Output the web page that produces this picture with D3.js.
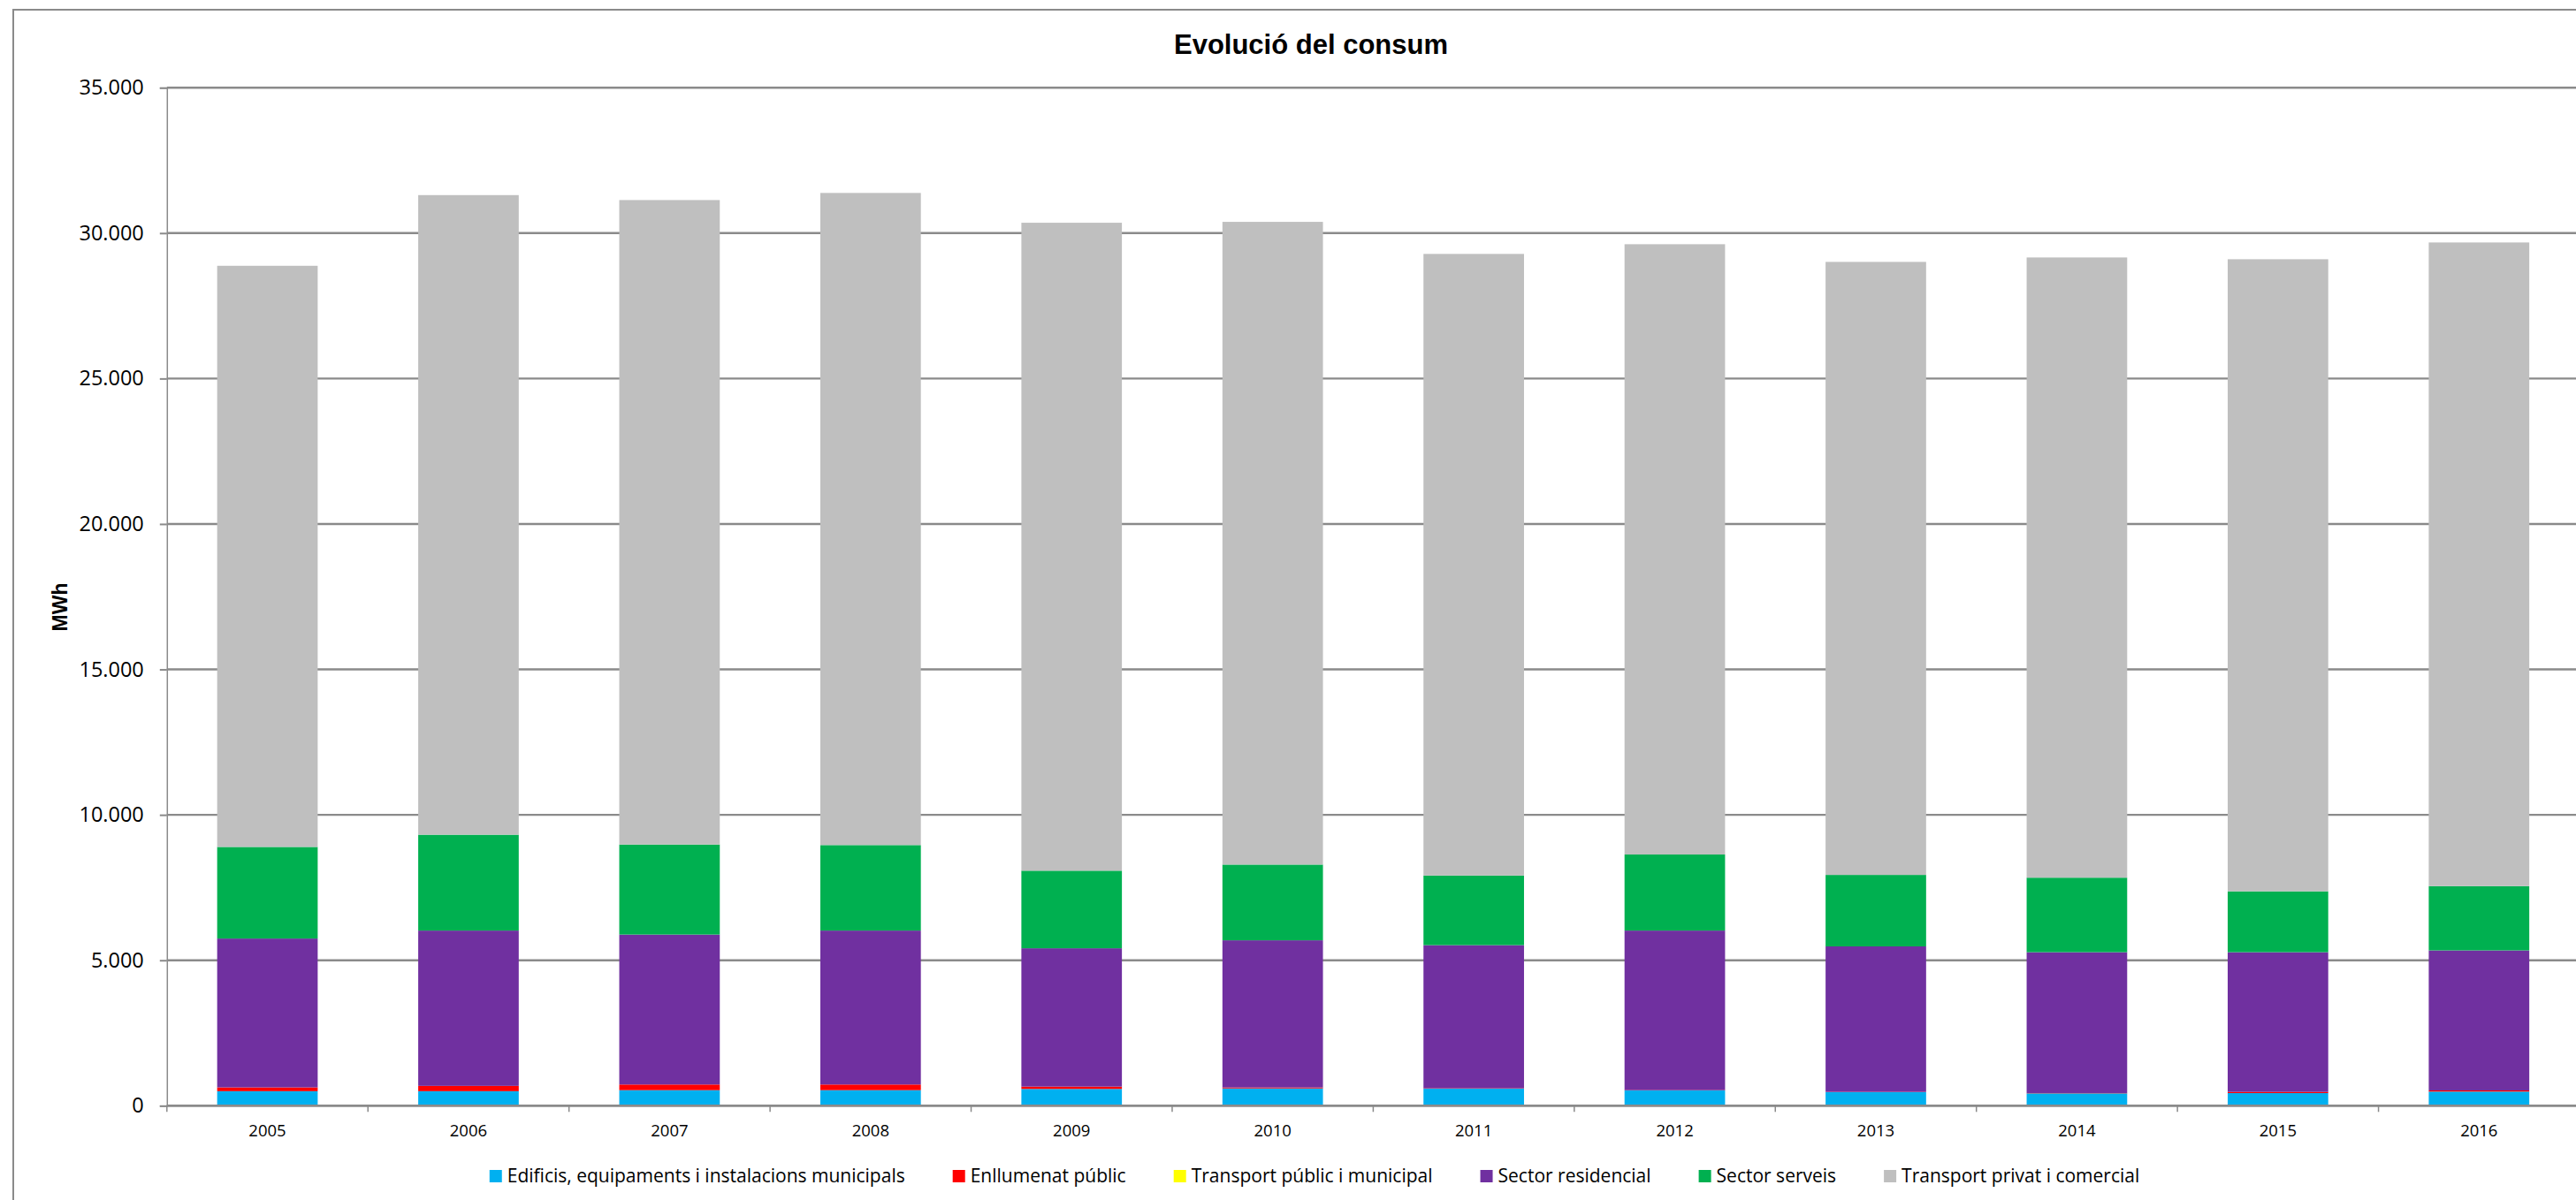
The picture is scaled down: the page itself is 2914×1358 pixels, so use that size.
<!DOCTYPE html>
<html>
<head>
<meta charset="utf-8">
<script src="https://cdn.jsdelivr.net/npm/d3@7"></script>
<style>
  html, body { margin: 0; padding: 0; background: #fff; }
  svg { display: block; }
</style>
</head>
<body>
<svg id="chart" width="2914" height="1358"></svg>
<script>
const years = ["2005","2006","2007","2008","2009","2010","2011","2012","2013","2014","2015","2016"];
const seriesNames = [
  "Edificis, equipaments i instalacions municipals",
  "Enllumenat públic",
  "Transport públic i municipal",
  "Sector residencial",
  "Sector serveis",
  "Transport privat i comercial"
];
const seriesColors = ["#00B0F0", "#FF0000", "#FFFF00", "#7030A0", "#00B050", "#BFBFBF"];
const edificis    = [500, 500, 535, 535, 577, 596, 586, 525, 465, 425, 434, 486];
const enllumenat  = [130, 182, 194, 194, 80, 30, 15, 10, 10, 10, 40, 40];
const transPublic = [0, 0, 0, 0, 0, 0, 0, 0, 0, 0, 0, 0];
const residencial = [5117, 5339, 5155, 5292, 4756, 5061, 4919, 5486, 5002, 4842, 4803, 4814];
const serveis     = [3150, 3296, 3095, 2940, 2667, 2603, 2393, 2615, 2458, 2563, 2093, 2209];
const transPrivat = [19979, 21989, 22157, 22419, 22276, 22096, 21371, 20982, 21075, 21322, 21731, 22129];
const yTicks = [0, 5000, 10000, 15000, 20000, 25000, 30000, 35000];
const titleText = "Evolució del consum";
const yAxisTitle = "MWh";

const seriesValues = [edificis, enllumenat, transPublic, residencial, serveis, transPrivat];
const keys = seriesNames;
const rows = years.map((y, i) => {
  const r = { year: y };
  keys.forEach((k, j) => r[k] = seriesValues[j][i]);
  return r;
});

const svg = d3.select("#chart");
const plotLeft = 188.8, plotRight = 2918, plotTop = 99.2, plotBottom = 1251.3;
const gridColor = "#8a8a8a";

// outer chart border
svg.append("rect").attr("x", 15).attr("y", 11).attr("width", 3100).attr("height", 1500)
  .attr("fill", "#fff").attr("stroke", "#8a8a8a").attr("stroke-width", 2);

const x = d3.scaleBand().domain(years).range([plotLeft, plotRight]).paddingInner(0.5).paddingOuter(0.25);
const y = d3.scaleLinear().domain([0, 35000]).range([plotBottom, plotTop]);

const loc = d3.formatLocale({ decimal: ",", thousands: ".", grouping: [3], currency: ["", "€"] });
const fmt = loc.format(",.0f");

// gridlines
svg.append("g").selectAll("line").data(yTicks).join("line")
  .attr("x1", plotLeft).attr("x2", plotRight)
  .attr("y1", d => y(d)).attr("y2", d => y(d))
  .attr("stroke", gridColor).attr("stroke-width", 2.4);

// bars
const stack = d3.stack().keys(keys);
const stacked = stack(rows);
svg.append("g").selectAll("g").data(stacked).join("g")
  .attr("fill", (d, i) => seriesColors[i])
  .selectAll("rect").data(d => d).join("rect")
  .attr("x", d => x(d.data.year))
  .attr("width", x.bandwidth())
  .attr("y", d => y(d[1]))
  .attr("height", d => Math.max(0, y(d[0]) - y(d[1])));

// y axis
const yAxis = d3.axisLeft(y).tickValues(yTicks).tickFormat(fmt).tickSize(8).tickPadding(18);
const gy = svg.append("g").attr("transform", `translate(${plotLeft},0)`).call(yAxis);
gy.select(".domain").attr("stroke", gridColor).attr("stroke-width", 1.5);
gy.selectAll(".tick line").attr("stroke", gridColor).attr("stroke-width", 2);
gy.selectAll(".tick text").attr("font-family", "'Open Sans', sans-serif").attr("font-size", 23.5).attr("fill", "#000");

// x axis baseline
svg.append("line").attr("x1", plotLeft).attr("x2", plotRight).attr("y1", y(0)).attr("y2", y(0))
  .attr("stroke", gridColor).attr("stroke-width", 2.4);
// category boundary ticks
const step = x.step();
const bounds = d3.range(years.length + 1).map(i => plotLeft + i * step);
svg.append("g").selectAll("line").data(bounds).join("line")
  .attr("x1", d => d).attr("x2", d => d)
  .attr("y1", y(0)).attr("y2", y(0) + 7)
  .attr("stroke", gridColor).attr("stroke-width", 1.5);
// x labels via axis
const xAxis = d3.axisBottom(x).tickSize(0).tickPadding(0);
const gx = svg.append("g").attr("transform", `translate(0,${plotBottom})`).call(xAxis);
gx.select(".domain").remove();
gx.selectAll(".tick text").attr("font-family", "'Open Sans', sans-serif").attr("font-size", 18.5)
  .attr("fill", "#000").attr("dy", null).attr("y", 35);

// title
svg.append("text").attr("x", 1483).attr("y", 61).attr("text-anchor", "middle")
  .attr("font-family", "'Liberation Sans', Arial, sans-serif").attr("font-weight", "bold")
  .attr("font-size", 31).text(titleText);

// y axis title
svg.append("text").attr("transform", "translate(76,687) rotate(-90)").attr("text-anchor", "middle")
  .attr("font-family", "'Liberation Sans', Arial, sans-serif").attr("font-weight", "bold")
  .attr("font-size", 23).text(yAxisTitle);

// legend
const legend = svg.append("g");
const items = legend.selectAll("g").data(seriesNames).join("g");
items.append("rect").attr("width", 14).attr("height", 14).attr("y", 1324)
  .attr("fill", (d, i) => seriesColors[i]);
items.append("text").attr("y", 1338).attr("x", 20)
  .attr("font-family", "'Open Sans', sans-serif").attr("font-size", 21).attr("fill", "#000")
  .text(d => d);
let widths = [];
items.each(function() { widths.push(d3.select(this).select("text").node().getComputedTextLength()); });
const itemW = widths.map(w => 20 + w);
const gap = 54;
const total = d3.sum(itemW) + gap * (itemW.length - 1);
let cx = 1487 - total / 2;
items.each(function(d, i) {
  d3.select(this).attr("transform", `translate(${cx},0)`);
  cx += itemW[i] + gap;
});
</script>
</body>
</html>
